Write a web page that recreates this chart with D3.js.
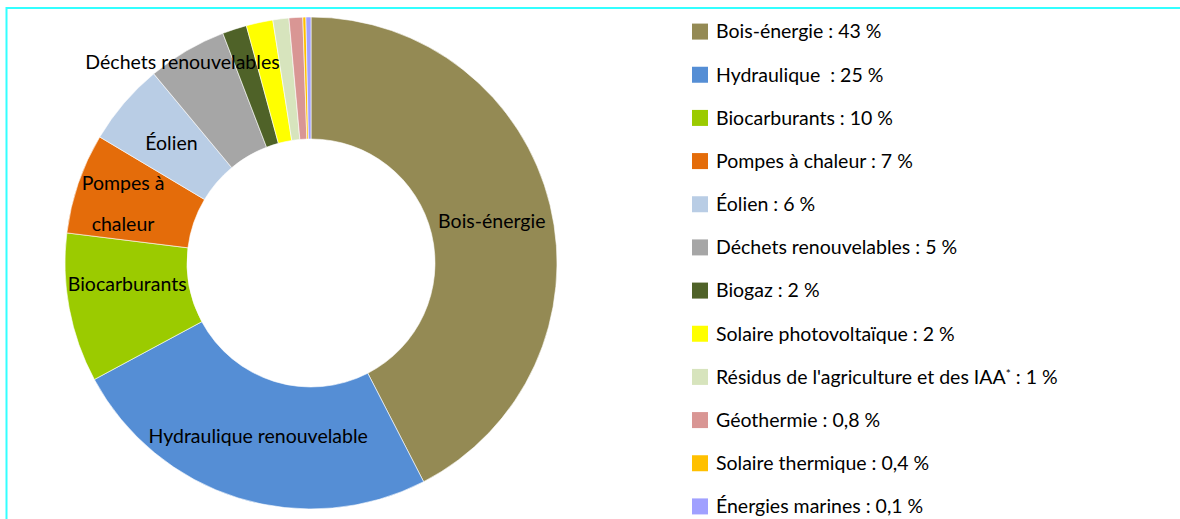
<!DOCTYPE html>
<html>
<head>
<meta charset="utf-8">
<script src="https://cdn.jsdelivr.net/npm/d3@7"></script>
<style>
  body { margin: 0; background: #fff; }
  text { font-family: Lato, "Open Sans", sans-serif; fill: #000; white-space: pre; }
</style>
</head>
<body>
<div id="chart"></div>
<script>
const width = 1180;
const height = 519;

const categories = ['Bois-énergie', 'Hydraulique', 'Biocarburants', 'Pompes à chaleur', 'Éolien',
    'Déchets renouvelables', 'Biogaz', 'Solaire photovoltaïque', "Résidus de l'agriculture et des IAA",
    'Géothermie', 'Solaire thermique', 'Énergies marines'];
const values = [42.4, 24.7, 9.8, 6.6, 5.4, 5.2, 1.6, 1.75, 1.05, 0.9, 0.2, 0.33];
// valeurs affichées dans la légende
const valueLabels = ['43', '25', '10', '7', '6', '5', '2', '2', '1', '0,8', '0,4', '0,1'];
const sliceLabels = [['Bois-énergie'], ['Hydraulique renouvelable'], ['Biocarburants'], ['Pompes à', 'chaleur'],
    ['Éolien'], ['Déchets renouvelables'], [], [], [], [], [], []];
const colors = ['#948a54', '#558ed5', '#9bcb00', '#e46c0a', '#b9cde5', '#a6a6a6',
    '#4f6228', '#ffff00', '#d7e4bd', '#d99694', '#ffc000', '#a0a0ff'];

const svg = d3.select('#chart')
    .append('svg')
    .attr('width', width)
    .attr('height', height);

// cadre
svg.append('rect')
    .attr('x', 6.5)
    .attr('y', 8)
    .attr('width', 1200)
    .attr('height', 600)
    .attr('fill', 'none')
    .attr('stroke', '#33ffff')
    .attr('stroke-width', 2);

const cx = 311, cy = 263;
const outerR = 246, innerR = 124;

const pie = d3.pie().sort(null).value((d) => d.value);
const arc = d3.arc().innerRadius(innerR).outerRadius(outerR);

const data = categories.map((c, i) => ({name: c, value: values[i], color: colors[i], label: sliceLabels[i]}));

const g = svg.append('g')
    .attr('transform', `translate(${cx}, ${cy})`);

const arcs = pie(data);

g.selectAll('path')
    .data(arcs)
    .enter()
    .append('path')
    .attr('d', arc)
    .attr('fill', (d) => d.data.color)
    .attr('stroke', '#fff')
    .attr('stroke-width', 0.6);

// décalages des étiquettes (placement Excel)
const labelShift = {
    'Bois-énergie': [1, 2],
    'Hydraulique': [2, -4],
    'Biocarburants': [-2, -13],
    'Pompes à chaleur': [-13, 1],
    'Éolien': [1, 0],
    'Déchets renouvelables': [-35, -41]
};

const lineH = 41;
arcs.filter((d) => d.data.label.length).forEach((d) => {
    const [x, y] = arc.centroid(d);
    const shift = labelShift[d.data.name] || [0, 0];
    const lines = d.data.label;
    const t = g.append('text')
        .attr('text-anchor', 'middle')
        .attr('font-size', 19.5);
    lines.forEach((l, i) => {
        t.append('tspan')
            .attr('x', x + shift[0])
            .attr('y', y + shift[1] + (i - (lines.length - 1) / 2) * lineH)
            .attr('dy', '0.35em')
            .text(l);
    });
});

// légende
const legendY = d3.scaleBand()
    .domain(categories)
    .range([10, 528]);

const legend = svg.append('g')
    .attr('transform', 'translate(692, 0)');

const item = legend.selectAll('g')
    .data(data)
    .enter()
    .append('g')
    .attr('transform', (d) => `translate(0, ${legendY(d.name) + legendY.bandwidth() / 2})`);

item.append('rect')
    .attr('x', 0)
    .attr('y', -8)
    .attr('width', 16)
    .attr('height', 16)
    .attr('fill', (d) => d.color);

item.append('text')
    .attr('x', 24)
    .attr('dy', '0.35em')
    .attr('font-size', 19.5)
    .each(function(d, i) {
        const t = d3.select(this);
        if (d.name === 'Hydraulique') {
            t.append('tspan').text(d.name + '  : ' + valueLabels[i] + ' %');
        } else if (d.name.endsWith('IAA')) {
            t.append('tspan').text(d.name);
            t.append('tspan').attr('font-size', 12).attr('dy', -6).text('*');
            t.append('tspan').attr('dy', 6).text(' : ' + valueLabels[i] + ' %');
        } else {
            t.append('tspan').text(d.name + ' : ' + valueLabels[i] + ' %');
        }
    });
</script>
</body>
</html>
